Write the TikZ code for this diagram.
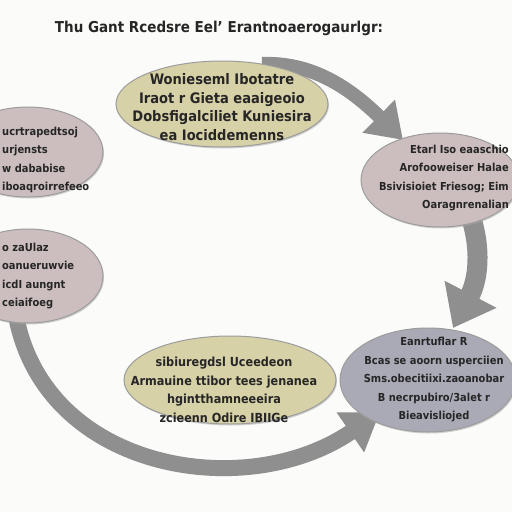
\documentclass[tikz,border=0pt]{standalone}
\usepackage{fontspec}
\setmainfont{DejaVu Sans Condensed}
\usetikzlibrary{shapes.geometric,arrows.meta,shadows}
\definecolor{paper}{HTML}{FBFBF9}
\definecolor{sand}{HTML}{D7D1A7}
\definecolor{rose}{HTML}{CCBEBE}
\definecolor{slate}{HTML}{AAAAB7}
\definecolor{band}{HTML}{8F8F8F}
\definecolor{rim}{HTML}{9C9C9C}
\definecolor{ink}{HTML}{262626}
\tikzset{
  bubble/.style={ellipse,draw=rim,line width=1pt,inner sep=0pt,
    drop shadow={shadow xshift=1pt,shadow yshift=-1.5pt,fill=gray!70}},
  txt/.style={text=ink,font=\fontsize{12.5}{18.5}\selectfont\bfseries,align=center,inner sep=0pt},
  bigtxt/.style={txt,font=\fontsize{14.5}{18.5}\selectfont\bfseries},
  sidetxt/.style={txt,font=\fontsize{11}{18.5}\selectfont\bfseries},
  flow/.style={draw=band,line cap=butt}
}
\begin{document}
\begin{tikzpicture}[x=1pt,y=-1pt]
\useasboundingbox[fill=paper] (0,0) rectangle (512,512);
% title:
\node[text=ink,font=\fontsize{15}{17}\selectfont\bfseries] (title) at (219,28) {Thu Gant Rcedsre Eel' Erantnoaerogaurlgr:};
% arrows at the back:
\draw[flow,line width=14pt,-{Triangle[width=44pt,length=34pt]}] (262,64) .. controls (312,62) and (350,88) .. (403,140);
\draw[flow,line width=20pt,-{Triangle[width=56pt,length=38pt]}] (470,214) .. controls (482,250) and (478,280) .. (453,328);
\draw[flow,line width=16pt,-{Triangle[width=46pt,length=36pt]}] (15,310) .. controls (40,470) and (245,505) .. (380,412);
% bubbles:
\node[bubble,fill=sand,minimum width=212pt,minimum height=86pt] (plan) at (222,104) {};
\node[bubble,fill=rose,minimum width=150pt,minimum height=90pt] (need) at (28,152) {};
\node[bubble,fill=rose,minimum width=158pt,minimum height=94pt] (work) at (440,180) {};
\node[bubble,fill=rose,minimum width=150pt,minimum height=94pt] (goal) at (28,276) {};
\node[bubble,fill=sand,minimum width=212pt,minimum height=88pt] (test) at (230,380) {};
\node[bubble,fill=slate,minimum width=176pt,minimum height=104pt] (fine) at (428,380) {};
% texts:
\node[bigtxt] (plan-text) at (222,107) {Wonieseml Ibotatre\\ Iraot r Gieta eaaigeoio\\ Dobsfigalciliet Kuniesira\\ ea Iociddemenns};
\node[sidetxt,align=left,anchor=west] (need-text) at (2,160) {ucrtrapedtsoj\\ urjensts\\ w dababise\\ iboaqroirrefeeo};
\node[sidetxt,align=right,anchor=east] (work-text) at (509,178) {Etarl Iso eaaschio\\ Arofooweiser Halae\\ Bsivisioiet Friesog; Eim\\ Oaragnrenalian};
\node[sidetxt,align=left,anchor=west] (goal-text) at (2,276) {o zaUlaz\\ oanueruwvie\\ icdI aungnt\\ ceiaifoeg};
\node[txt] (test-text) at (224,390) {sibiuregdsl Uceedeon\\ Armauine ttibor tees jenanea\\ hgintthamneeeira\\ zcieenn Odire IBIIGe};
\node[sidetxt] (fine-text) at (434,380) {Eanrtuflar R\\ Bcas se aoorn usperciien\\ Sms.obecitiixi.zaoanobar\\ B necrpubiro/3alet r\\ Bieavisliojed};
\end{tikzpicture}
\end{document}
